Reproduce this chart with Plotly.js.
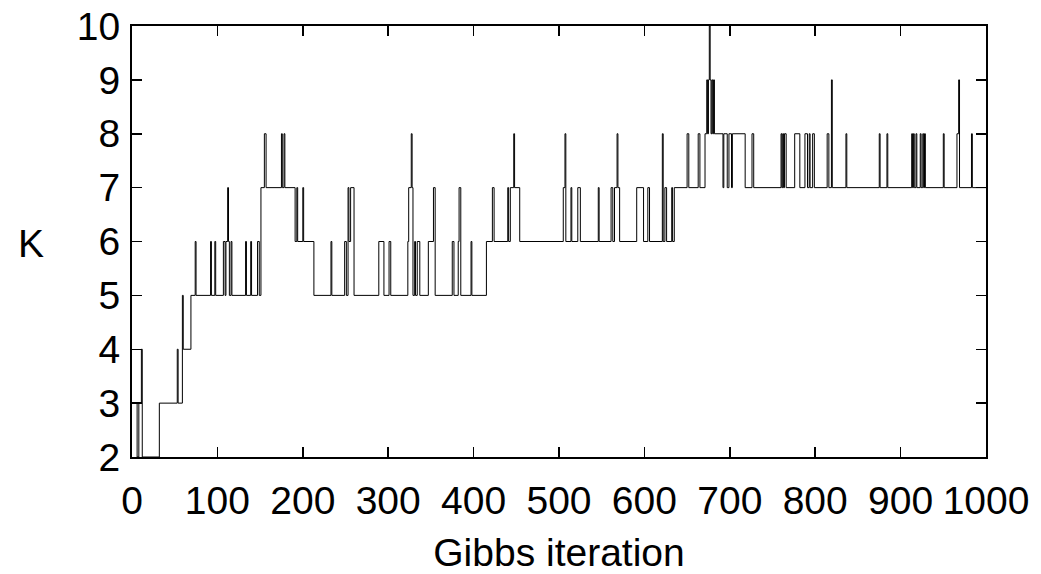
<!DOCTYPE html>
<html>
<head>
<meta charset="utf-8">
<script src="https://cdn.plot.ly/plotly-3.0.1.min.js"></script>
<style>html,body{margin:0;padding:0;background:#fff;}#chart{width:1041px;height:574px;}</style>
</head>
<body>
<div id="chart"></div>
<script>
// Iterations at which K changes value ...
const changeIter = [
  0,6,8,11,12,32,53,54,59,60,
  69,74,75,92,93,97,98,107,109,110,
  112,113,114,116,117,133,134,139,140,147,
  149,151,155,157,175,176,178,179,191,193,
  194,200,201,213,233,234,249,251,253,254,
  256,260,289,295,301,303,323,324,327,328,
  329,331,332,334,337,347,353,355,375,377,
  382,383,385,397,398,415,422,424,440,441,
  443,447,448,454,505,507,508,514,515,522,
  525,546,547,561,563,565,568,569,571,591,
  599,604,606,621,622,624,626,632,633,635,
  650,652,663,665,671,673,674,675,676,677,
  678,679,680,681,682,692,693,697,699,702,
  703,718,726,728,760,761,762,763,764,766,
  776,782,788,791,793,794,797,799,814,816,
  819,820,836,837,875,876,884,885,913,914,
  915,916,918,919,923,924,926,927,928,929,
  950,951,966,968,969,983,984,1000
];
// ... and the value K takes from that iteration on
const kValue = [
  3,2,3,4,2,3,4,3,5,4,
  5,6,5,6,5,6,5,6,5,6,
  7,6,5,6,5,6,5,6,5,6,
  5,7,8,7,8,7,8,7,6,7,
  6,7,6,5,6,5,6,5,7,6,
  7,5,6,5,6,5,6,7,8,7,
  5,6,5,6,5,6,7,5,6,5,
  6,7,5,6,5,6,7,6,7,6,
  7,8,7,6,7,8,6,7,6,7,
  6,7,6,7,6,7,8,7,6,7,
  6,7,6,8,6,7,6,7,6,7,
  8,7,8,7,8,9,8,9,10,9,
  8,9,8,9,8,7,8,7,8,7,
  8,7,8,7,8,7,8,7,8,7,
  8,7,8,7,8,7,8,7,8,7,
  9,7,8,7,8,7,8,7,8,7,
  8,7,8,7,8,7,8,7,8,7,
  8,7,8,9,7,8,7,7
];
const xTicks = [0,100,200,300,400,500,600,700,800,900,1000];
const yTicks = [2,3,4,5,6,7,8,9,10];

const fontFam = "Liberation Sans, Arial, Helvetica, sans-serif";

const trace = {
  x: changeIter,
  y: kValue,
  type: 'scatter',
  mode: 'lines',
  line: {color: '#000', width: 1, shape: 'hv'},
  hoverinfo: 'x+y'
};

const axisCommon = {
  showline: true, linecolor: '#000', linewidth: 2, mirror: 'ticks',
  ticks: 'inside', ticklen: 10, tickwidth: 1.5, tickcolor: '#000',
  showgrid: false, zeroline: false,
  tickfont: {family: fontFam, size: 39, color: '#000'}
};

const layout = {
  width: 1041, height: 574,
  margin: {l: 132, r: 55, t: 26, b: 117},
  paper_bgcolor: '#fff', plot_bgcolor: '#fff',
  showlegend: false,
  xaxis: Object.assign({}, axisCommon, {
    range: [0, 1000], tickvals: xTicks, ticktext: xTicks.map(String),
    ticklabelstandoff: 8,
    title: {text: 'Gibbs iteration', font: {family: fontFam, size: 39, color: '#000'}, standoff: 21}
  }),
  yaxis: Object.assign({}, axisCommon, {
    range: [2, 10], tickvals: yTicks, ticktext: yTicks.map(String),
    ticklabelstandoff: 2
  }),
  annotations: [{
    text: 'K', xref: 'paper', yref: 'paper', x: -0.1187, y: 0.4965,
    xanchor: 'center', yanchor: 'middle', showarrow: false,
    font: {family: fontFam, size: 39, color: '#000'}
  }]
};

Plotly.newPlot('chart', [trace], layout, {staticPlot: true, displayModeBar: false});
</script>
</body>
</html>
